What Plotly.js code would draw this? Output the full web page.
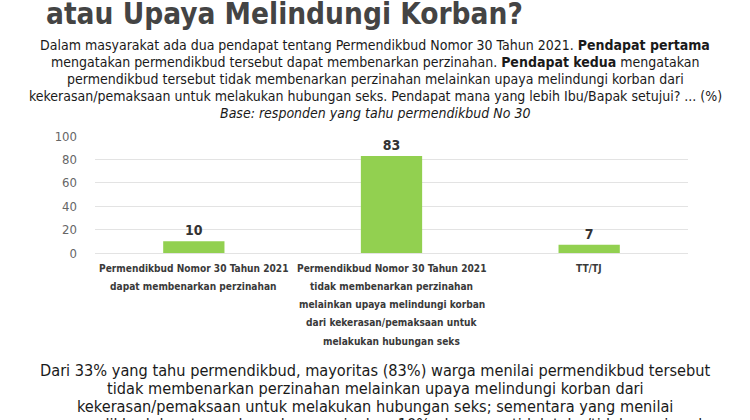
<!DOCTYPE html>
<html>
<head>
<meta charset="utf-8">
<script src="https://cdn.plot.ly/plotly-3.0.1.min.js"></script>
<style>html,body{margin:0;padding:0;background:#fff;}#chart{width:750px;height:420px;}</style>
</head>
<body>
<div id="chart"></div>
<script>
// ---- data ----
const categories = ["A", "B", "C"];
const categoryLabels = [
  ["Permendikbud Nomor 30 Tahun 2021", "dapat membenarkan perzinahan"],
  ["Permendikbud Nomor 30 Tahun 2021", "tidak membenarkan perzinahan", "melainkan upaya melindungi korban", "dari kekerasan/pemaksaan untuk", "melakukan hubungan seks"],
  ["TT/TJ"]
];
const values = [10, 83, 7];
const yTickVals = [0, 20, 40, 60, 80, 100];

const titleText = "atau Upaya Melindungi Korban?";
const subtitleLines = [
  "Dalam masyarakat ada dua pendapat tentang Permendikbud Nomor 30 Tahun 2021. <b>Pendapat pertama</b>",
  "mengatakan permendikbud tersebut dapat membenarkan perzinahan. <b>Pendapat kedua</b> mengatakan",
  "permendikbud tersebut tidak membenarkan perzinahan melainkan upaya melindungi korban dari",
  "kekerasan/pemaksaan untuk melakukan hubungan seks. Pendapat mana yang lebih Ibu/Bapak setujui? ... (%)",
  "<i>Base: responden yang tahu permendikbud No 30</i>"
];
const bottomLines = [
  "Dari 33% yang tahu permendikbud, mayoritas (83%) warga menilai permendikbud tersebut",
  "tidak membenarkan perzinahan melainkan upaya melindungi korban dari",
  "kekerasan/pemaksaan untuk melakukan hubungan seks; sementara yang menilai",
  "permendikbud dapat membenarkan perzinahan 10%, dan yang tidak tahu/tidak menjawab"
];

// ---- layout helpers (pixel -> paper, margins are zero) ----
const W = 750, H = 420;
const px = x => x / W;
const py = y => 1 - y / H;
const FONT = "DejaVu Sans Condensed, DejaVu Sans, sans-serif";

const plotLeft = 95, plotRight = 688, plotTop = 136, plotBottom = 253;

const annotations = [];
annotations.push({
  text: titleText, xref: "paper", yref: "paper", x: px(44), y: py(14),
  xanchor: "left", yanchor: "middle", showarrow: false,
  font: {family: FONT, size: 29.5, color: "#444444", weight: "bold"}
});
subtitleLines.forEach((t, i) => annotations.push({
  text: t, xref: "paper", yref: "paper", x: 0.5, y: py(45 + 17 * i),
  xanchor: "center", yanchor: "middle", showarrow: false,
  font: {family: FONT, size: 14, color: "#1a1a1a"}
}));
bottomLines.forEach((t, i) => annotations.push({
  text: t, xref: "paper", yref: "paper", x: 0.5, y: py(370 + 18 * i),
  xanchor: "center", yanchor: "middle", showarrow: false,
  font: {family: FONT, size: 16.2, color: "#1a1a1a"}
}));
categoryLabels.forEach((lines, ci) => lines.forEach((t, li) => annotations.push({
  text: t, xref: "x", yref: "paper", x: categories[ci], y: py(268 + 18.3 * li),
  xanchor: "center", yanchor: "middle", showarrow: false,
  font: {family: FONT, size: 10.1, color: "#3a3a3a", weight: "bold"}
})));

const trace = {
  type: "bar",
  x: categories,
  y: values,
  marker: {color: "#92D050"},
  text: values.map(String),
  textposition: "outside",
  cliponaxis: false,
  textfont: {family: FONT, size: 14, color: "#333333", weight: "bold"},
  hoverinfo: "none"
};

const layout = {
  width: W, height: H,
  margin: {l: 0, r: 0, t: 0, b: 0},
  paper_bgcolor: "#ffffff", plot_bgcolor: "#ffffff",
  showlegend: false,
  bargap: 0.69,
  xaxis: {
    domain: [plotLeft / W, plotRight / W],
    range: [-0.5, 2.5], autorange: false,
    showticklabels: false, showgrid: false, zeroline: false, showline: false,
    fixedrange: true
  },
  yaxis: {
    domain: [1 - plotBottom / H, 1 - plotTop / H],
    range: [0, 100], autorange: false, tickvals: yTickVals,
    showgrid: true, gridcolor: "#e3e3e3", gridwidth: 1,
    zeroline: true, zerolinecolor: "#e3e3e3", zerolinewidth: 1,
    showline: false, ticks: "", ticklen: 0,
    tickfont: {family: FONT, size: 13, color: "#666666"},
    ticklabelstandoff: 17,
    fixedrange: true
  },
  annotations: annotations
};

Plotly.newPlot("chart", [trace], layout, {displayModeBar: false, staticPlot: true});
</script>
</body>
</html>
